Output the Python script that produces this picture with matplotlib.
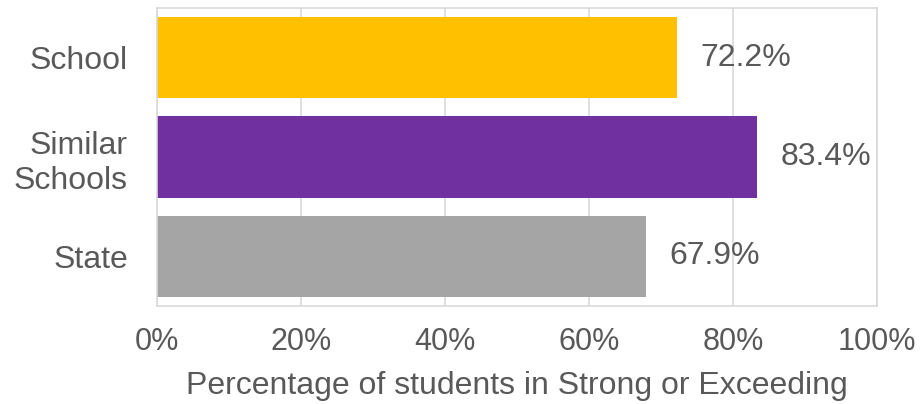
import matplotlib.pyplot as plt
from matplotlib.ticker import FuncFormatter

# data
categories = ['School', 'Similar\nSchools', 'State']
values = [72.2, 83.4, 67.9]
bar_colors = ['#FFC000', '#7030A0', '#A5A5A5']
x_ticks = [0, 20, 40, 60, 80, 100]

plt.rcParams['font.family'] = ['Liberation Sans', 'DejaVu Sans']
text_color = '#595959'
grid_color = '#D9D9D9'

fig = plt.figure(figsize=(9.23, 4.04), dpi=100)
ax = fig.add_axes([157 / 923, 1 - 306 / 404, 720 / 923, 298 / 404])

y_pos = list(range(len(categories)))
ax.barh(y_pos, values, height=0.82, color=bar_colors, zorder=2)

# value labels to the right of each bar
for y, v in zip(y_pos, values):
    ax.text(v + 3.2, y, f'{v:.1f}%', va='center', ha='left',
            fontsize=23, color=text_color)

ax.set_xlim(0, 100)
ax.set_ylim(len(categories) - 0.5, -0.5)
ax.set_yticks(y_pos)
ax.set_yticklabels(categories, fontsize=23, color=text_color, linespacing=1.25)
ax.set_xticks(x_ticks)
ax.xaxis.set_major_formatter(FuncFormatter(lambda x, p: f'{x:.0f}%'))
ax.tick_params(axis='x', labelsize=22, colors=text_color, length=0, pad=15)
ax.tick_params(axis='y', length=0, pad=21)
ax.grid(axis='x', color=grid_color, linewidth=1.2, zorder=0)
for s in ax.spines.values():
    s.set_color(grid_color)
    s.set_linewidth(1.2)

ax.set_xlabel('Percentage of students in Strong or Exceeding',
              fontsize=23, color=text_color, labelpad=10)

fig.savefig('out.png', dpi=100)
